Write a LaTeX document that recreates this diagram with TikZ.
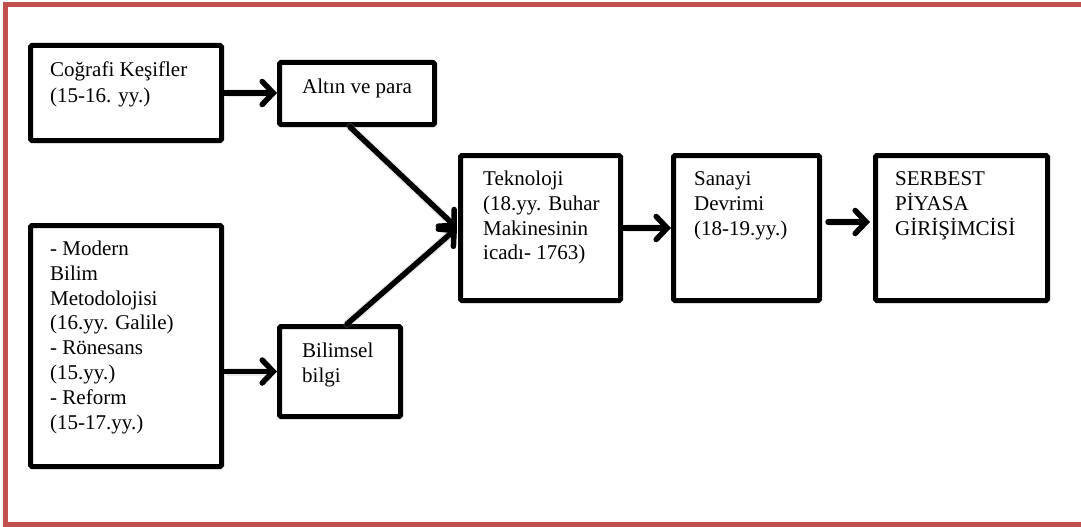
\documentclass[tikz,border=0pt]{standalone}
\usepackage{fontspec}
\setmainfont{Liberation Serif}
\usetikzlibrary{arrows.meta,shadows}
\definecolor{frame}{RGB}{192,80,77}
\tikzset{
  box/.style={draw=black, line width=5pt, fill=white, rounded corners=1.5pt, inner sep=0pt,
    drop shadow={shadow xshift=2pt, shadow yshift=-2.5pt, opacity=0.2}},
  txt/.style={anchor=north west, inner sep=0pt, align=left,
    font=\fontsize{21}{24.8}\selectfont},
  conn/.style={line width=5.5pt, line cap=round,
    -{Straight Barb[length=11pt,width=23pt,line width=5.5pt,line cap=round]}},
  shad/.style={line width=8pt, line cap=round, draw=black!35, opacity=0.25},
}
\begin{document}
\begin{tikzpicture}[x=1pt,y=-1pt]
\useasboundingbox (0,0) rectangle (1081,527);
\fill[white] (0,0) rectangle (1081,527);
% red frame (right side outside the picture)
\draw[frame, line width=5pt] (1095,4.5) -- (5.5,4.5) -- (5.5,524.5) -- (1095,524.5);

% boxes
\node[box, minimum width=191pt, minimum height=95pt] (cog) at (126,93) {};
\node[box, minimum width=155pt, minimum height=62pt] (altin) at (357,93.5) {};
\node[box, minimum width=191pt, minimum height=241pt] (modern) at (126,346) {};
\node[box, minimum width=121pt, minimum height=90pt] (bilim) at (340,371.5) {};
\node[box, minimum width=160pt, minimum height=145pt] (tek) at (540.5,228) {};
\node[box, minimum width=146pt, minimum height=145pt] (san) at (746.5,228) {};
\node[box, minimum width=172pt, minimum height=145pt] (ser) at (961.5,228) {};

% texts (position = first baseline - 0.7 baselineskip)
\node[txt, font=\fontsize{21}{26}\selectfont] (cogT) at (50,58) {\strut Coğrafi Keşifler\\(15-16. yy.)};
\node[txt] (altinT) at (302,76) {\strut Altın ve para};
\node[txt] (modernT) at (50,238) {\strut - Modern\\Bilim\\Metodolojisi\\(16.yy. Galile)\\- Rönesans\\(15.yy.)\\- Reform\\(15-17.yy.)};
\node[txt] (bilimT) at (302,340) {\strut Bilimsel\\bilgi};
\node[txt] (tekT) at (483,168) {\strut Teknoloji\\(18.yy. Buhar\\Makinesinin\\icadı- 1763)};
\node[txt] (sanT) at (694,168) {\strut Sanayi\\Devrimi\\(18-19.yy.)};
\node[txt] (serT) at (895,168) {\strut SERBEST\\PİYASA\\GİRİŞİMCİSİ};

% connector shadows
\begin{scope}[shift={(2,4)}]
\draw[shad] ([xshift=4pt]cog.east) -- ([xshift=-8pt]cog.east -| altin.west);
\draw[shad] ([xshift=4pt]bilim.west -| modern.east) -- ([xshift=-8pt]bilim.west);
\draw[shad] ([xshift=-7pt]altin.south) -- ([xshift=-10pt,yshift=8pt]tek.west);
\draw[shad] ([xshift=7pt]bilim.north) -- ([xshift=-10pt,yshift=-8pt]tek.west);
\draw[shad] ([xshift=4pt]tek.east) -- ([xshift=-8pt]san.west);
\draw[shad] ([yshift=6pt,xshift=8pt]san.east) -- ([yshift=6pt,xshift=-10pt]ser.west);
\end{scope}

% connectors
\draw[conn] (cog.east) -- (cog.east -| altin.west);
\draw[conn] (bilim.west -| modern.east) -- (bilim.west);
\draw[conn] ([xshift=-7pt]altin.south) -- ([xshift=-1pt]tek.west);
\draw[conn] ([xshift=7pt]bilim.north) -- ([xshift=-1pt]tek.west);
\draw[conn] (tek.east) -- (san.west);
\draw[conn] ([yshift=6pt,xshift=6pt]san.east) -- ([yshift=6pt,xshift=-3pt]ser.west);
\end{tikzpicture}
\end{document}
